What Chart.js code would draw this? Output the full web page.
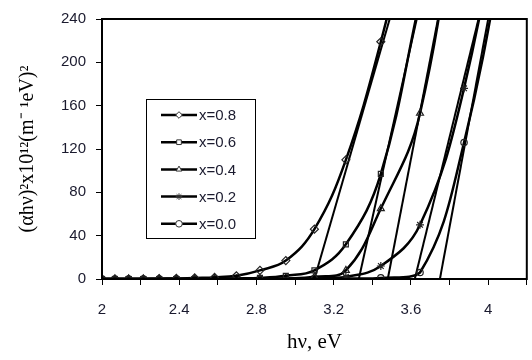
<!DOCTYPE html>
<html>
<head>
<meta charset="utf-8">
<script src="https://cdn.jsdelivr.net/npm/chart.js@4.4.1/dist/chart.umd.min.js"></script>
<style>
  html, body { margin: 0; padding: 0; background: #fff; }
  #wrap { width: 532px; height: 360px; }
</style>
</head>
<body>
<div id="wrap"><canvas id="chart" width="532" height="360"></canvas></div>
<script>
// photon energy (eV) of the measured points
const hv = [2.0, 2.067, 2.138, 2.214, 2.296, 2.385, 2.48, 2.583, 2.696, 2.818, 2.952, 3.1, 3.263, 3.444, 3.647, 3.875, 4.133];

const seriesNames = ['x=0.8', 'x=0.6', 'x=0.4', 'x=0.2', 'x=0.0'];
const y08 = [0, 0, 0, 0, 0.3, 0.5, 1, 1.5, 3, 8, 17, 46, 110, 219, 370];
const y06 = [0, 0, 0, 0, 0, 0, 0, 0.2, 0.5, 1, 3, 8, 32, 97, 258];
const y04 = [0, 0, 0, 0, 0, 0, 0, 0, 0, 0.2, 0.5, 2, 8, 65, 153, 400];
const y02 = [0, 0, 0, 0, 0, 0, 0, 0, 0, 0, 0.2, 0.5, 2, 12, 50, 176, 420];
const y00 = [0, 0, 0, 0, 0, 0, 0, 0, 0, 0, 0, 0.2, 0.5, 1, 6, 126, 360];

// linear extrapolation lines (x-intercept -> top of plot)
const fitStart = [3.10, 3.33, 3.48, 3.62, 3.75];
const fitEnd = [3.49, 3.63, 3.74, 3.95, 4.00];
const fitTop = 240;

const markers = ['rectRot', 'rect', 'triangle', 'star', 'circle'];
const markerSize = [4, 3.5, 4, 4, 3.2];

function pts(ys) {
  return ys.map((v, i) => ({ x: hv[i], y: v }));
}

const curves = [y08, y06, y04, y02, y00];
const datasets = [];
curves.forEach((ys, i) => {
  datasets.push({
    label: seriesNames[i],
    data: pts(ys),
    borderColor: '#000',
    borderWidth: 2.5,
    tension: 0.4,
    pointStyle: markers[i],
    pointRadius: markerSize[i],
    pointBackgroundColor: 'rgba(255,255,255,0)',
    pointBorderColor: '#222',
    pointBorderWidth: 1.2
  });
});
fitStart.forEach((x0, i) => {
  datasets.push({
    label: 'fit ' + seriesNames[i],
    data: [{ x: x0, y: 0 }, { x: fitEnd[i], y: fitTop }],
    borderColor: '#000',
    borderWidth: 2,
    pointRadius: 0,
    tension: 0
  });
});

// frame + legend box drawn over the plot
const framePlugin = {
  id: 'frame',
  afterDraw(chart) {
    const { ctx, chartArea: a } = chart;
    ctx.save();
    ctx.strokeStyle = '#000';
    ctx.lineWidth = 2;
    ctx.strokeRect(a.left, a.top, a.right - a.left, a.bottom - a.top);

    // legend
    const bx = 146, by = 99, bw = 109, bh = 139;
    ctx.fillStyle = '#fff';
    ctx.fillRect(bx, by, bw, bh);
    ctx.lineWidth = 1;
    ctx.strokeStyle = '#000';
    ctx.strokeRect(bx + 0.5, by + 0.5, bw, bh);
    ctx.font = '15px "Liberation Sans", Arial, sans-serif';
    ctx.textBaseline = 'middle';
    ctx.textAlign = 'left';
    seriesNames.forEach((name, i) => {
      const y = by + 16 + i * 27.2;
      ctx.strokeStyle = '#000';
      ctx.lineWidth = 2.5;
      ctx.beginPath();
      ctx.moveTo(161, y);
      ctx.lineTo(197, y);
      ctx.stroke();
      ctx.lineWidth = 1;
      ctx.strokeStyle = '#333';
      ctx.fillStyle = '#fff';
      Chart.helpers.drawPoint(ctx, { pointStyle: markers[i], radius: 3.3, rotation: 0, borderWidth: 1 }, 179, y);
      ctx.fillStyle = '#1a1a2e';
      ctx.fillText(name, 199, y + 1);
    });
    ctx.restore();
  }
};

new Chart(document.getElementById('chart'), {
  type: 'line',
  data: { datasets },
  plugins: [framePlugin],
  options: {
    responsive: false,
    animation: false,
    layout: { padding: { top: 14, right: 5, left: 0, bottom: 0 } },
    plugins: {
      legend: { display: false },
      tooltip: { enabled: false }
    },
    scales: {
      x: {
        type: 'linear',
        min: 2,
        max: 4.2,
        afterFit(scale) {
          scale.height = 81;
          scale.paddingLeft = 0;
          scale.paddingRight = 0;
        },
        ticks: {
          stepSize: 0.2,
          color: '#1a1a2e',
          font: { family: '"Liberation Sans", Arial, sans-serif', size: 15 },
          padding: 16,
          maxRotation: 0,
          autoSkip: false,
          callback(v) {
            const k = Math.round(v * 10);
            if (k % 4 !== 0) return '';
            return String(Math.round(v * 10) / 10);
          }
        },
        grid: { drawOnChartArea: false, color: '#000', tickLength: 6, tickWidth: 1 },
        border: { color: '#000', width: 2 },
        title: {
          display: true,
          text: 'hν, eV',
          color: '#000',
          font: { family: '"Liberation Serif", "Times New Roman", serif', size: 21 },
          padding: { top: 0, bottom: 5 }
        }
      },
      y: {
        min: 0,
        max: 240,
        afterFit(scale) { scale.width = 102; },
        ticks: {
          stepSize: 40,
          color: '#1a1a2e',
          font: { family: '"Liberation Sans", Arial, sans-serif', size: 15 },
          padding: 10
        },
        grid: { drawOnChartArea: false, color: '#000', tickLength: 6, tickWidth: 1 },
        border: { color: '#000', width: 2 },
        title: {
          display: true,
          text: '(αhν)²x10¹²(m⁻ ¹eV)²',
          color: '#000',
          font: { family: '"Liberation Serif", "Times New Roman", serif', size: 20 },
          padding: { top: 16, bottom: 0 }
        }
      }
    }
  }
});
</script>
</body>
</html>
